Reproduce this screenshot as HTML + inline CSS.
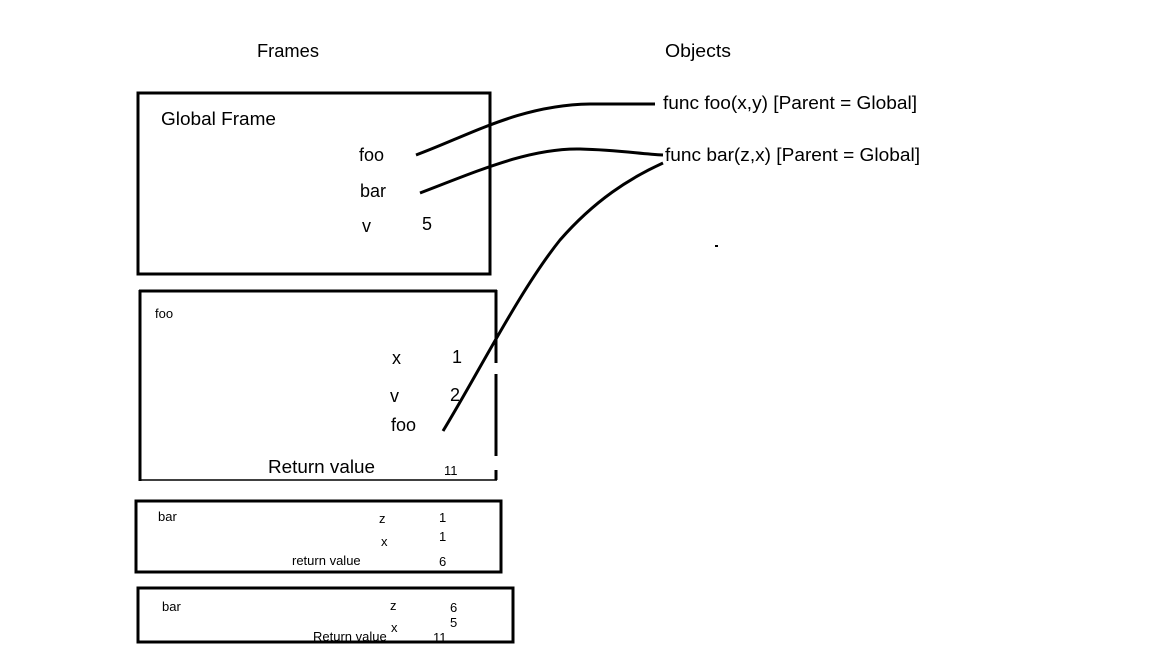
<!DOCTYPE html>
<html><head><meta charset="utf-8"><style>
html,body{margin:0;padding:0;background:#fff}
svg{display:block}
text{font-family:"Liberation Sans",sans-serif;fill:#000}
</style></head><body>
<svg width="1152" height="648" viewBox="0 0 1152 648" xmlns="http://www.w3.org/2000/svg">
<rect width="1152" height="648" fill="#fff"/>
<text x="257" y="57" font-size="18" textLength="62" lengthAdjust="spacingAndGlyphs">Frames</text>
<text x="665" y="57" font-size="18" textLength="66" lengthAdjust="spacingAndGlyphs">Objects</text>
<text x="663" y="109" font-size="18" textLength="254" lengthAdjust="spacingAndGlyphs">func foo(x,y) [Parent = Global]</text>
<text x="665" y="161" font-size="18" textLength="255" lengthAdjust="spacingAndGlyphs">func bar(z,x) [Parent = Global]</text>
<rect x="715" y="245" width="3" height="2" fill="#000"/>

<rect x="138" y="93" width="352" height="181" fill="none" stroke="#000" stroke-width="3"/>
<text x="161" y="125" font-size="18" textLength="115" lengthAdjust="spacingAndGlyphs">Global Frame</text>
<text x="359" y="161" font-size="18">foo</text>
<text x="360" y="197" font-size="18">bar</text>
<text x="362" y="232" font-size="18">v</text>
<text x="422" y="230" font-size="18">5</text>

<line x1="139" y1="291" x2="497" y2="291" stroke="#000" stroke-width="3"/>
<line x1="140" y1="290" x2="140" y2="481" stroke="#000" stroke-width="3"/>
<line x1="139" y1="480" x2="497" y2="480" stroke="#000" stroke-width="1.5"/>
<line x1="496" y1="290" x2="496" y2="363" stroke="#000" stroke-width="3"/>
<line x1="496" y1="374" x2="496" y2="456" stroke="#000" stroke-width="3"/>
<line x1="496" y1="470" x2="496" y2="480" stroke="#000" stroke-width="3"/>
<text x="155" y="318" font-size="13">foo</text>
<text x="392" y="364" font-size="18">x</text>
<text x="452" y="363" font-size="18">1</text>
<text x="390" y="402" font-size="18">v</text>
<text x="450" y="401" font-size="18">2</text>
<text x="391" y="431" font-size="18">foo</text>
<text x="268" y="473" font-size="18" textLength="107" lengthAdjust="spacingAndGlyphs">Return value</text>
<text x="444" y="475" font-size="13">11</text>

<rect x="136" y="501" width="365" height="71" fill="none" stroke="#000" stroke-width="3"/>
<text x="158" y="521" font-size="13">bar</text>
<text x="379" y="523" font-size="13">z</text>
<text x="439" y="522" font-size="13">1</text>
<text x="381" y="546" font-size="13">x</text>
<text x="439" y="541" font-size="13">1</text>
<text x="292" y="565" font-size="13">return value</text>
<text x="439" y="566" font-size="13">6</text>

<rect x="138" y="588" width="375" height="54" fill="none" stroke="#000" stroke-width="3"/>
<text x="162" y="611" font-size="13">bar</text>
<text x="390" y="610" font-size="13">z</text>
<text x="450" y="612" font-size="13">6</text>
<text x="391" y="632" font-size="13">x</text>
<text x="450" y="627" font-size="13">5</text>
<text x="313" y="641" font-size="13">Return value</text>
<text x="433" y="642" font-size="13">11</text>

<path d="M416,155 C470,135 520,105 590,104 L655,104" fill="none" stroke="#000" stroke-width="3"/>
<path d="M420,193 C480,170 530,148 580,149 C620,150 640,154 663,155" fill="none" stroke="#000" stroke-width="3"/>
<path d="M443,431 C480,370 520,290 560,240 C595,200 630,178 663,163" fill="none" stroke="#000" stroke-width="3"/>
</svg>
</body></html>
